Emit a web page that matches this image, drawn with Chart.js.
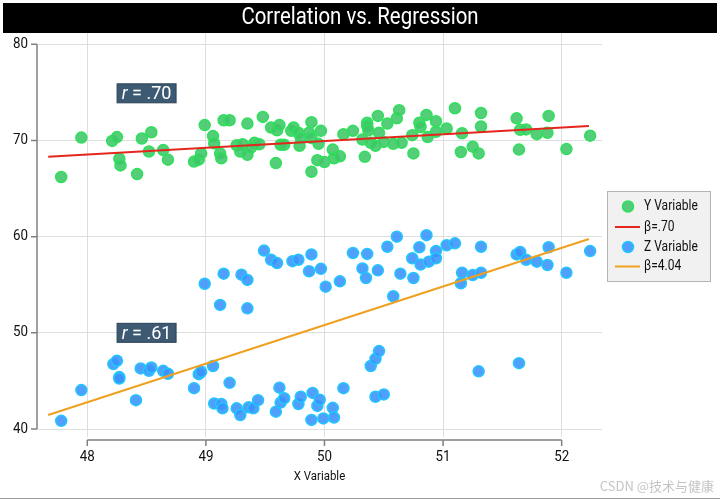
<!DOCTYPE html>
<html>
<head>
<meta charset="utf-8">
<script src="https://cdn.jsdelivr.net/npm/chart.js@4.4.0/dist/chart.umd.min.js"></script>
<style>
  body { margin: 0; background: #fff; }
</style>
</head>
<body>
<canvas id="corrChart" width="720" height="499"></canvas>
<script>
// Data
const titleText = 'Correlation vs. Regression';
const xTitle = 'X Variable';
const xTicks = [48, 49, 50, 51, 52];
const yTicks = [40, 50, 60, 70, 80];

const yVarX = [47.78, 47.95, 48.21, 48.25, 48.27, 48.28, 48.42, 48.46, 48.54, 48.52, 48.64, 48.68, 48.90, 48.94, 48.96, 48.99,
  49.06, 49.07, 49.12, 49.13, 49.15, 49.20, 49.26, 49.31, 49.29, 49.35, 49.35, 49.41, 49.38, 49.45, 49.48, 49.55, 49.60, 49.62,
  49.59, 49.63, 49.66, 49.72, 49.74, 49.78, 49.79, 49.80, 49.87, 49.89, 49.89, 49.95, 49.97, 49.89, 49.94, 50.00, 50.07, 50.08,
  50.13, 50.16, 50.24, 50.32, 50.34, 50.36, 50.36, 50.37, 50.39, 50.43, 50.45, 50.46, 50.50, 50.53, 50.58, 50.61, 50.63, 50.65,
  50.74, 50.75, 50.80, 50.81, 50.86, 50.87, 50.94, 50.94, 51.03, 51.10, 51.15, 51.16, 51.25, 51.30, 51.32, 51.32, 51.62, 51.64,
  51.65, 51.70, 51.79, 51.88, 51.89, 52.04, 52.24];
const yVarY = [66.2, 70.3, 69.95, 70.35, 68.1, 67.4, 66.5, 70.2, 70.85, 68.85, 69.0, 68.0, 67.8, 68.0, 68.65, 71.6,
  70.45, 69.7, 68.65, 68.15, 72.1, 72.1, 69.5, 69.6, 68.85, 71.75, 68.5, 69.75, 69.25, 69.6, 72.45, 71.35, 71.05, 71.6,
  67.65, 69.55, 69.55, 71.0, 71.35, 70.8, 69.45, 70.25, 70.8, 71.9, 70.25, 69.65, 71.0, 66.75, 67.95, 67.75, 69.05, 68.15,
  68.35, 70.65, 71.0, 70.1, 68.3, 71.85, 71.5, 71.05, 69.75, 69.45, 72.55, 70.8, 69.85, 71.75, 69.65, 72.3, 73.15, 69.75,
  70.55, 68.65, 71.85, 71.4, 72.65, 70.35, 72.0, 70.9, 71.25, 73.35, 68.8, 70.75, 69.35, 68.65, 72.85, 71.45, 72.3, 69.05,
  71.1, 71.15, 70.65, 70.8, 72.55, 69.1, 70.5];

const zVarX = [47.78, 47.95, 48.22, 48.25, 48.27, 48.27, 48.41, 48.45, 48.52, 48.54, 48.64, 48.68, 48.90, 48.94, 48.96, 48.99,
  49.06, 49.12, 49.15, 49.07, 49.13, 49.14, 49.20, 49.26, 49.29, 49.30, 49.35, 49.35, 49.36, 49.40, 49.44, 49.49, 49.55, 49.60,
  49.59, 49.62, 49.63, 49.66, 49.73, 49.78, 49.78, 49.80, 49.87, 49.89, 49.90, 49.89, 49.94, 49.96, 49.97, 49.99, 50.01, 50.07,
  50.08, 50.13, 50.16, 50.24, 50.32, 50.36, 50.35, 50.39, 50.43, 50.46, 50.45, 50.43, 50.50, 50.53, 50.58, 50.61, 50.64, 50.74,
  50.75, 50.80, 50.81, 50.86, 50.88, 50.94, 50.94, 51.03, 51.10, 51.16, 51.15, 51.25, 51.30, 51.32, 51.32, 51.62, 51.65, 51.64,
  51.70, 51.79, 51.88, 51.89, 52.04, 52.24];
const zVarY = [40.85, 44.05, 46.75, 47.1, 45.4, 45.25, 43.0, 46.3, 46.05, 46.4, 46.05, 45.75, 44.25, 45.7, 45.95, 55.1,
  46.55, 52.9, 56.15, 42.65, 42.6, 42.15, 44.8, 42.15, 41.45, 56.05, 55.5, 52.55, 42.25, 42.15, 43.0, 58.55, 57.6, 57.25,
  41.8, 44.3, 42.75, 43.2, 57.45, 57.6, 42.6, 43.35, 56.4, 58.15, 43.75, 40.95, 42.4, 43.05, 56.65, 41.1, 54.8, 42.2,
  41.2, 55.35, 44.25, 58.3, 56.7, 58.2, 55.7, 46.55, 47.3, 48.1, 56.5, 43.35, 43.6, 58.95, 53.8, 60.0, 56.15, 57.75,
  55.7, 58.9, 57.1, 60.15, 57.4, 58.5, 57.75, 59.1, 59.3, 56.25, 55.15, 56.0, 46.0, 58.95, 56.25, 58.15, 58.4, 46.85,
  57.6, 57.4, 57.05, 58.9, 56.25, 58.5];

// fitted lines (end points)
const fitX = [47.67, 52.23];
const yFitY = [68.3, 71.5];
const zFitY = [41.45, 59.75];

// r labels
const rLabels = ['.70', '.61'];
const rLabelX = [48.5, 48.5];
const rLabelY = [74.9, 50.0];

const toPts = (xs, ys) => xs.map((x, i) => ({ x: x, y: ys[i] }));

function drawText(c, s, x, y, size, color, align, sx, style) {
    c.save();
    c.font = (style || '') + ' ' + size + 'px Roboto, "DejaVu Sans", sans-serif';
    c.fillStyle = color;
    c.textAlign = align;
    c.textBaseline = 'middle';
    c.translate(x, y);
    c.scale(sx, 1);
    c.fillText(s, 0, 0);
    c.restore();
}

function textWidth(c, s, size, sx, style) {
    c.save();
    c.font = (style || '') + ' ' + size + 'px Roboto, "DejaVu Sans", sans-serif';
    const w = c.measureText(s).width * sx;
    c.restore();
    return w;
}

const decor = {
    id: 'decor',
    beforeDraw(chart) {
        const c = chart.ctx;
        c.save();
        c.fillStyle = '#fff';
        c.fillRect(0, 0, chart.width, chart.height);
        c.fillStyle = '#000';
        c.fillRect(3, 3, 714, 30);
        c.restore();
        drawText(c, titleText, 360, 18, 24, '#fff', 'center', 0.85);
    },
    afterDraw(chart) {
        const c = chart.ctx;
        const xs = chart.scales.x, ys = chart.scales.y;
        const area = chart.chartArea;
        c.save();
        c.strokeStyle = '#808080';
        c.lineWidth = 1.5;

        // y axis
        const yTop = ys.getPixelForValue(yTicks[yTicks.length - 1]);
        const yBot = ys.getPixelForValue(yTicks[0]);
        c.beginPath();
        c.moveTo(area.left, yTop);
        c.lineTo(area.left, yBot);
        yTicks.forEach(v => {
            const p = ys.getPixelForValue(v);
            c.moveTo(area.left - 6, p);
            c.lineTo(area.left, p);
        });
        c.stroke();
        yTicks.forEach(v => drawText(c, String(v), area.left - 9, ys.getPixelForValue(v), 14.5, '#111', 'right', 0.92));

        // x axis, set below the plot
        const ax = area.bottom + 3;
        c.beginPath();
        c.moveTo(xs.getPixelForValue(xTicks[0]), ax);
        c.lineTo(xs.getPixelForValue(xTicks[xTicks.length - 1]), ax);
        xTicks.forEach(v => {
            const p = xs.getPixelForValue(v);
            c.moveTo(p, ax);
            c.lineTo(p, ax + 6);
        });
        c.stroke();
        c.restore();
        xTicks.forEach(v => drawText(c, String(v), xs.getPixelForValue(v), ax + 17, 14.5, '#111', 'center', 0.92));
        drawText(c, xTitle, (area.left + area.right) / 2, 477, 13, '#111', 'center', 0.88);

        // r = ... boxes
        rLabels.forEach((lab, i) => {
            const cx = xs.getPixelForValue(rLabelX[i]);
            const cy = ys.getPixelForValue(rLabelY[i]);
            c.save();
            c.fillStyle = '#3d5a72';
            c.fillRect(cx - 29.5, cy - 9.5, 59, 19);
            c.strokeStyle = '#2a4256';
            c.lineWidth = 1;
            c.strokeRect(cx - 29.5, cy - 9.5, 59, 19);
            c.restore();
            const w1 = textWidth(c, 'r', 19, 0.95, 'italic');
            const w2 = textWidth(c, ' = ' + lab, 19, 0.95);
            const sx0 = cx - (w1 + w2) / 2;
            drawText(c, 'r', sx0, cy + 1, 19, '#fff', 'left', 0.95, 'italic');
            drawText(c, ' = ' + lab, sx0 + w1, cy + 1, 19, '#fff', 'left', 0.95);
        });

        // legend box
        c.save();
        c.fillStyle = '#f1f1f1';
        c.fillRect(607, 191, 104, 91);
        c.strokeStyle = '#b4b4b4';
        c.lineWidth = 1;
        c.strokeRect(607.5, 191.5, 103, 90);
        const rows = [206.5, 227, 247, 266.5];
        chart.data.datasets.forEach(ds => {
            const ry = rows[ds.legendRow];
            if (ds.showLine) {
                c.strokeStyle = ds.borderColor;
                c.lineWidth = 2;
                c.beginPath();
                c.moveTo(615, ry);
                c.lineTo(640, ry);
                c.stroke();
            } else {
                c.fillStyle = ds.backgroundColor;
                c.strokeStyle = ds.borderColor;
                c.lineWidth = 1.5;
                c.beginPath();
                c.arc(628, ry, 5.5, 0, Math.PI * 2);
                c.fill();
                c.stroke();
            }
        });
        c.restore();
        chart.data.datasets.forEach(ds => drawText(c, ds.label, 644, rows[ds.legendRow], 14, '#111', 'left', 0.86));

        // watermark
        c.save();
        c.font = '13px "Noto Sans CJK SC", sans-serif';
        c.fillStyle = '#c4c4c4';
        c.textAlign = 'right';
        c.textBaseline = 'middle';
        c.fillText('CSDN @技术与健康', 714, 486);
        c.strokeStyle = '#9a9a9a';
        c.lineWidth = 1;
        c.beginPath();
        c.moveTo(0, 498.5);
        c.lineTo(720, 498.5);
        c.stroke();
        c.restore();
    }
};

const ctx = document.getElementById('corrChart').getContext('2d');
const corrChart = new Chart(ctx, {
    type: 'scatter',
    data: {
        datasets: [
            {
                label: 'Y Variable',
                legendRow: 0,
                data: toPts(yVarX, yVarY),
                backgroundColor: 'rgba(62,198,104,0.88)',
                borderColor: '#2ee05a',
                borderWidth: 1.5,
                pointRadius: 5.5,
                order: 2
            },
            {
                label: 'β=.70',
                legendRow: 1,
                data: toPts(fitX, yFitY),
                showLine: true,
                borderColor: '#e5261e',
                borderWidth: 2,
                pointRadius: 0,
                order: 0
            },
            {
                label: 'Z Variable',
                legendRow: 2,
                data: toPts(zVarX, zVarY),
                backgroundColor: 'rgba(56,146,250,0.88)',
                borderColor: '#22c6ff',
                borderWidth: 1.5,
                pointRadius: 5.5,
                order: 2
            },
            {
                label: 'β=4.04',
                legendRow: 3,
                data: toPts(fitX, zFitY),
                showLine: true,
                borderColor: '#f0a020',
                borderWidth: 2,
                pointRadius: 0,
                order: 0
            }
        ]
    },
    options: {
        responsive: false,
        animation: false,
        layout: {
            padding: { left: 37, right: 118, top: 33, bottom: 62 }
        },
        scales: {
            x: {
                type: 'linear',
                min: 47.576,
                max: 52.34,
                afterBuildTicks: s => { s.ticks = xTicks.map(v => ({ value: v })); },
                ticks: { display: false },
                border: { display: false },
                grid: { color: '#dedede', lineWidth: 1, drawTicks: false }
            },
            y: {
                type: 'linear',
                min: 39.17,
                max: 81.17,
                afterBuildTicks: s => { s.ticks = yTicks.map(v => ({ value: v })); },
                ticks: { display: false },
                border: { display: false },
                grid: { color: '#dedede', lineWidth: 1, drawTicks: false }
            }
        },
        plugins: {
            legend: { display: false },
            tooltip: { enabled: false }
        }
    },
    plugins: [decor]
});
</script>
</body>
</html>
